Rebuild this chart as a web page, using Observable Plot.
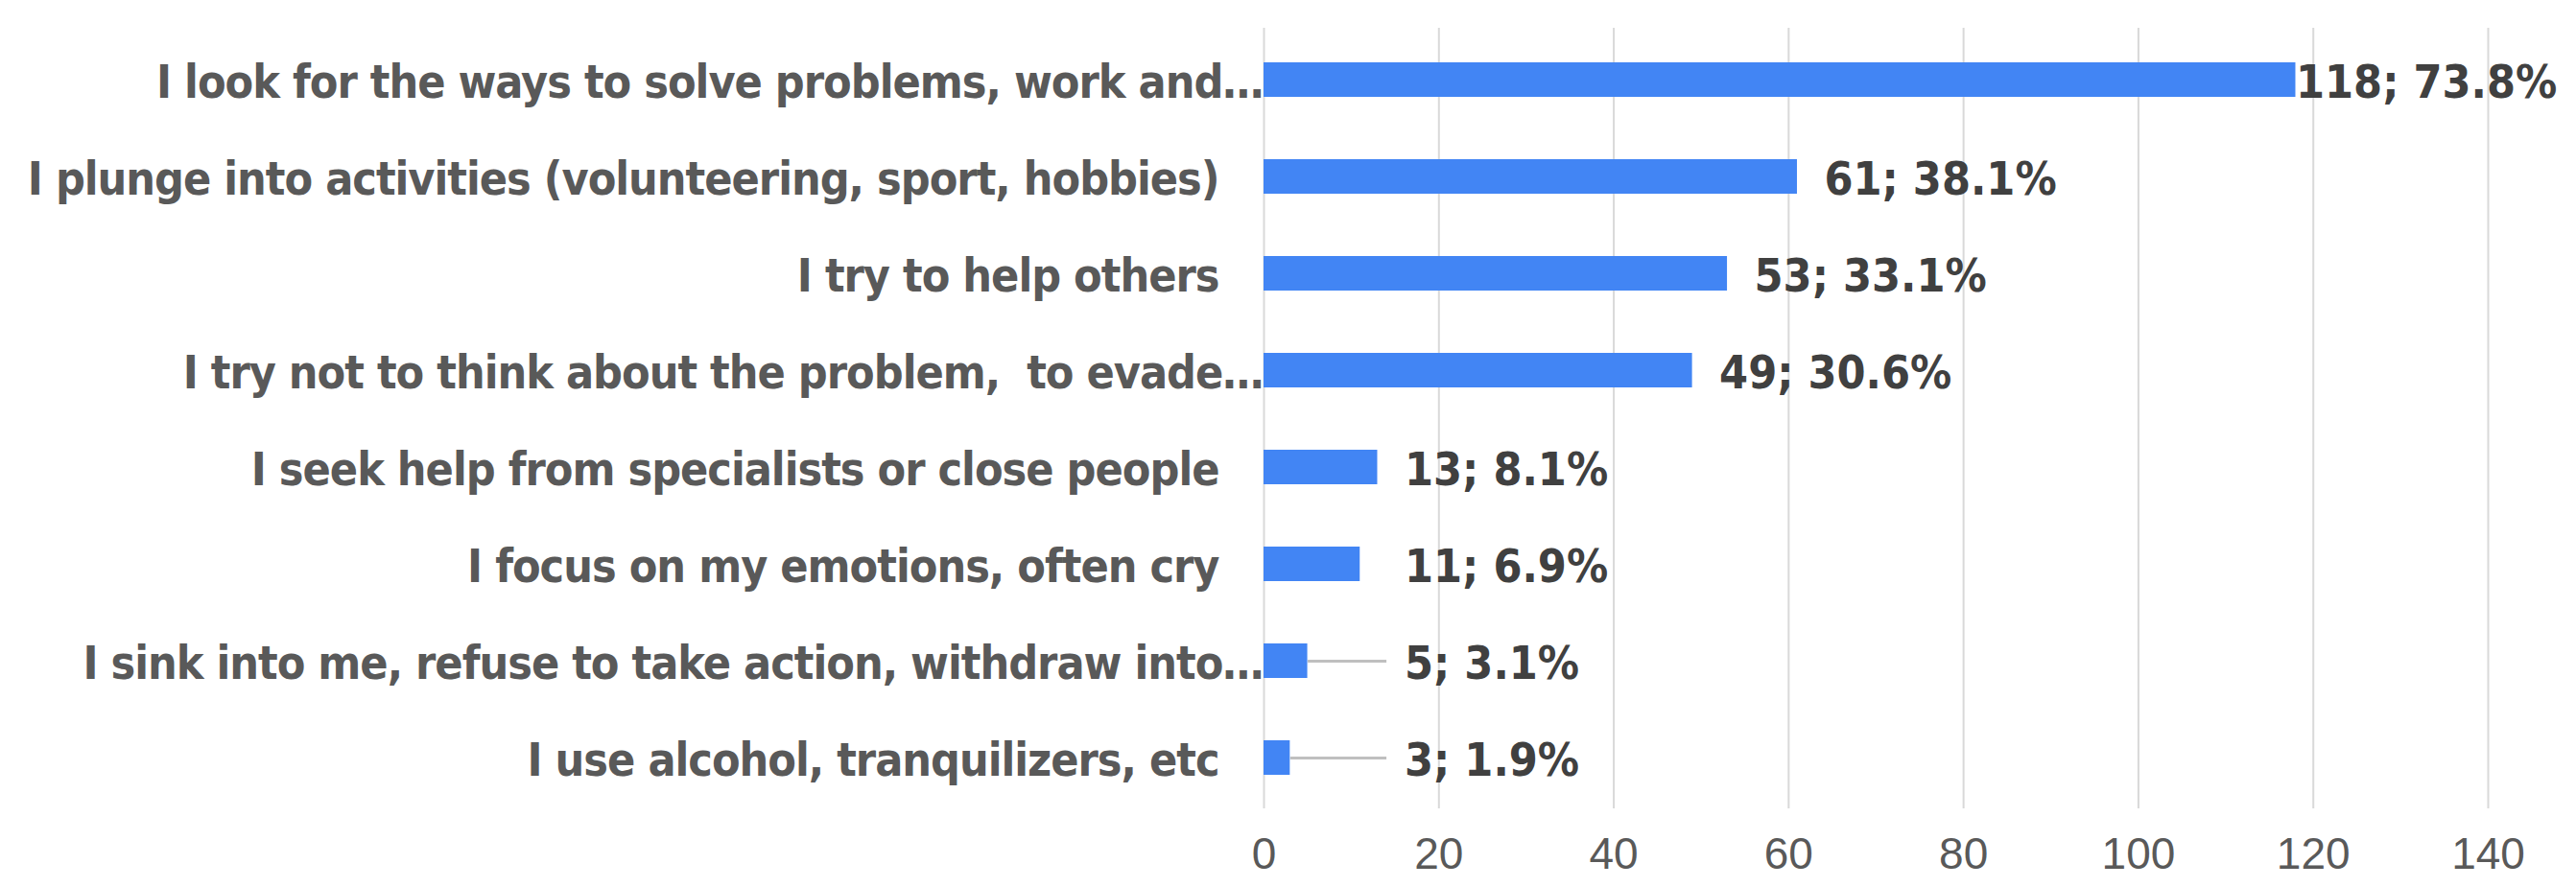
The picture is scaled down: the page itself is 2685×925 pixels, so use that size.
<!DOCTYPE html>
<html><head><meta charset="utf-8">
<script src="https://cdn.jsdelivr.net/npm/d3@7"></script>
<script src="https://cdn.jsdelivr.net/npm/@observablehq/plot@0.6"></script>
<style>
html,body{margin:0;padding:0;background:#fff;}
svg{display:block}
.cat-label text{letter-spacing:-1px;}
</style>
</head><body><div id="chart"></div>
<script>
const categories = [
  "I look for the ways to solve problems, work and…",
  "I plunge into activities (volunteering, sport, hobbies)",
  "I try to help others",
  "I try not to think about the problem,  to evade…",
  "I seek help from specialists or close people",
  "I focus on my emotions, often cry",
  "I sink into me, refuse to take action, withdraw into…",
  "I use alcohol, tranquilizers, etc"
];
const counts = [118, 61, 53, 49, 13, 11, 5, 3];
const percents = [73.8, 38.1, 33.1, 30.6, 8.1, 6.9, 3.1, 1.9];
const xTicks = [0, 20, 40, 60, 80, 100, 120, 140];

const data = categories.map((c, i) => ({
  category: c,
  count: counts[i],
  pct: percents[i],
  label: `${counts[i]}; ${percents[i].toFixed(1)}%`
}));

const labelMin = 13;   // small bars: labels collected beyond this value (Excel-like)
const font = "'DejaVu Sans Condensed', 'DejaVu Sans', sans-serif";
const catSize = 48;
const valSize = 48;

const truncated = d => d.category.endsWith("…");

const chart = Plot.plot({
  width: 2685,
  height: 925,
  marginTop: 29,
  marginBottom: 82,
  marginLeft: 1317,
  marginRight: 92,
  style: {fontFamily: font, background: "#fff"},
  x: {domain: [0, 140], ticks: xTicks, label: null},
  y: {domain: categories, paddingInner: 0.645, paddingOuter: 0.3225, axis: null},
  marks: [
    Plot.gridX(xTicks, {stroke: "#d9d9d9", strokeOpacity: 1, strokeWidth: 2}),
    Plot.axisX({ticks: xTicks, tickSize: 0, tickPadding: 30, fontSize: 46, fill: "#595959", fontFamily: "Liberation Sans", label: null}),
    Plot.link(data.filter(d => labelMin - d.count > 5), {
      x1: "count", x2: labelMin + 1, y1: "category", y2: "category",
      stroke: "#bfbfbf", strokeWidth: 3
    }),
    Plot.barX(data, {y: "category", x: "count", fill: "#4285F4"}),
    Plot.text(data.filter(d => d.count <= 100), {
      x: d => Math.max(d.count, labelMin), y: "category", text: "label",
      textAnchor: "start", dx: 28, dy: 3, fontSize: valSize, fontWeight: "bold", fill: "#404040"
    }),
    Plot.text(data.filter(d => d.count > 100), {
      x: "count", y: "category", text: "label",
      textAnchor: "start", dx: 0, dy: 3, fontSize: valSize, fontWeight: "bold", fill: "#404040"
    }),
    Plot.text(data.filter(d => !truncated(d)), {
      x: 0, y: "category", text: "category", className: "cat-label",
      textAnchor: "end", dx: -47, dy: 3, fontSize: catSize, fontWeight: "bold", fill: "#595959"
    }),
    Plot.text(data.filter(truncated), {
      x: 0, y: "category", text: "category", className: "cat-label",
      textAnchor: "end", dx: -1, dy: 3, fontSize: catSize, fontWeight: "bold", fill: "#595959"
    })
  ]
});
document.getElementById("chart").append(chart);
</script>
</body></html>
